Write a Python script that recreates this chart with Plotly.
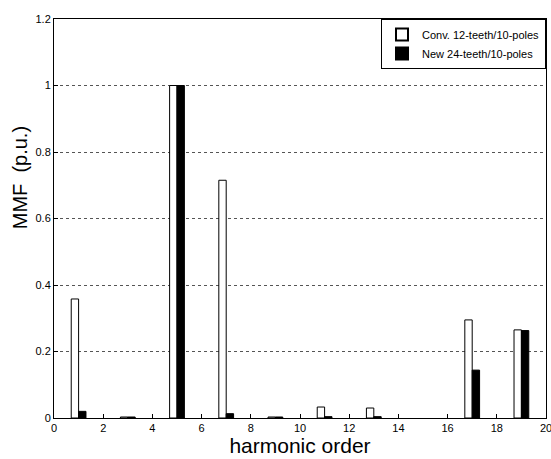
import plotly.graph_objects as go

# Harmonic orders and normalised MMF amplitudes
harmonic_order = [1, 3, 5, 7, 9, 11, 13, 17, 19]
mmf_conv = [0.358, 0.003, 1.0, 0.715, 0.003, 0.033, 0.030, 0.295, 0.265]
mmf_new = [0.020, 0.003, 1.0, 0.013, 0.003, 0.004, 0.004, 0.144, 0.263]

series_names = ["Conv. 12-teeth/10-poles", "New 24-teeth/10-poles"]

x_ticks = [0, 2, 4, 6, 8, 10, 12, 14, 16, 18, 20]
y_ticks = [0, 0.2, 0.4, 0.6, 0.8, 1, 1.2]

font_family = "Liberation Sans, Arial, sans-serif"

fig = go.Figure()
fig.add_trace(go.Bar(
    x=harmonic_order, y=mmf_conv, name=series_names[0],
    marker=dict(color="white", line=dict(color="black", width=1)),
))
fig.add_trace(go.Bar(
    x=harmonic_order, y=mmf_new, name=series_names[1],
    marker=dict(color="black", line=dict(color="black", width=1)),
))

fig.update_layout(
    width=551, height=459,
    margin=dict(l=54, r=5, t=19, b=41),
    paper_bgcolor="white", plot_bgcolor="white",
    barmode="group", bargap=0.7, bargroupgap=0,
    font=dict(family=font_family, size=11, color="black"),
    showlegend=True,
    legend=dict(
        x=1, y=1, xanchor="right", yanchor="top",
        bgcolor="white", bordercolor="black", borderwidth=1,
        font=dict(size=11, family=font_family),
        itemsizing="constant", tracegroupgap=0,
    ),
)

# y-axis label placed as a rotated annotation, sitting above the axis middle
fig.add_annotation(
    text="MMF  (p.u.)", textangle=-90, showarrow=False,
    xref="paper", yref="paper", x=-0.069, y=0.601,
    xanchor="center", yanchor="middle",
    font=dict(size=20, family=font_family, color="black"),
)

fig.update_xaxes(
    range=[0, 20], tickvals=x_ticks,
    showline=True, linecolor="black", linewidth=1, mirror=True,
    ticks="inside", ticklen=4, tickcolor="black",
    ticklabeloverflow="allow", automargin=False,
    showgrid=False, zeroline=False,
    title=dict(text="harmonic order", font=dict(size=21), standoff=1),
)
fig.update_yaxes(
    range=[0, 1.2], tickvals=y_ticks,
    showline=True, linecolor="black", linewidth=1, mirror=True,
    ticks="inside", ticklen=4, tickcolor="black",
    automargin=False,
    showgrid=True, gridcolor="#555555", griddash="dot", gridwidth=1,
    zeroline=False,
)

fig.write_html("out.html")
